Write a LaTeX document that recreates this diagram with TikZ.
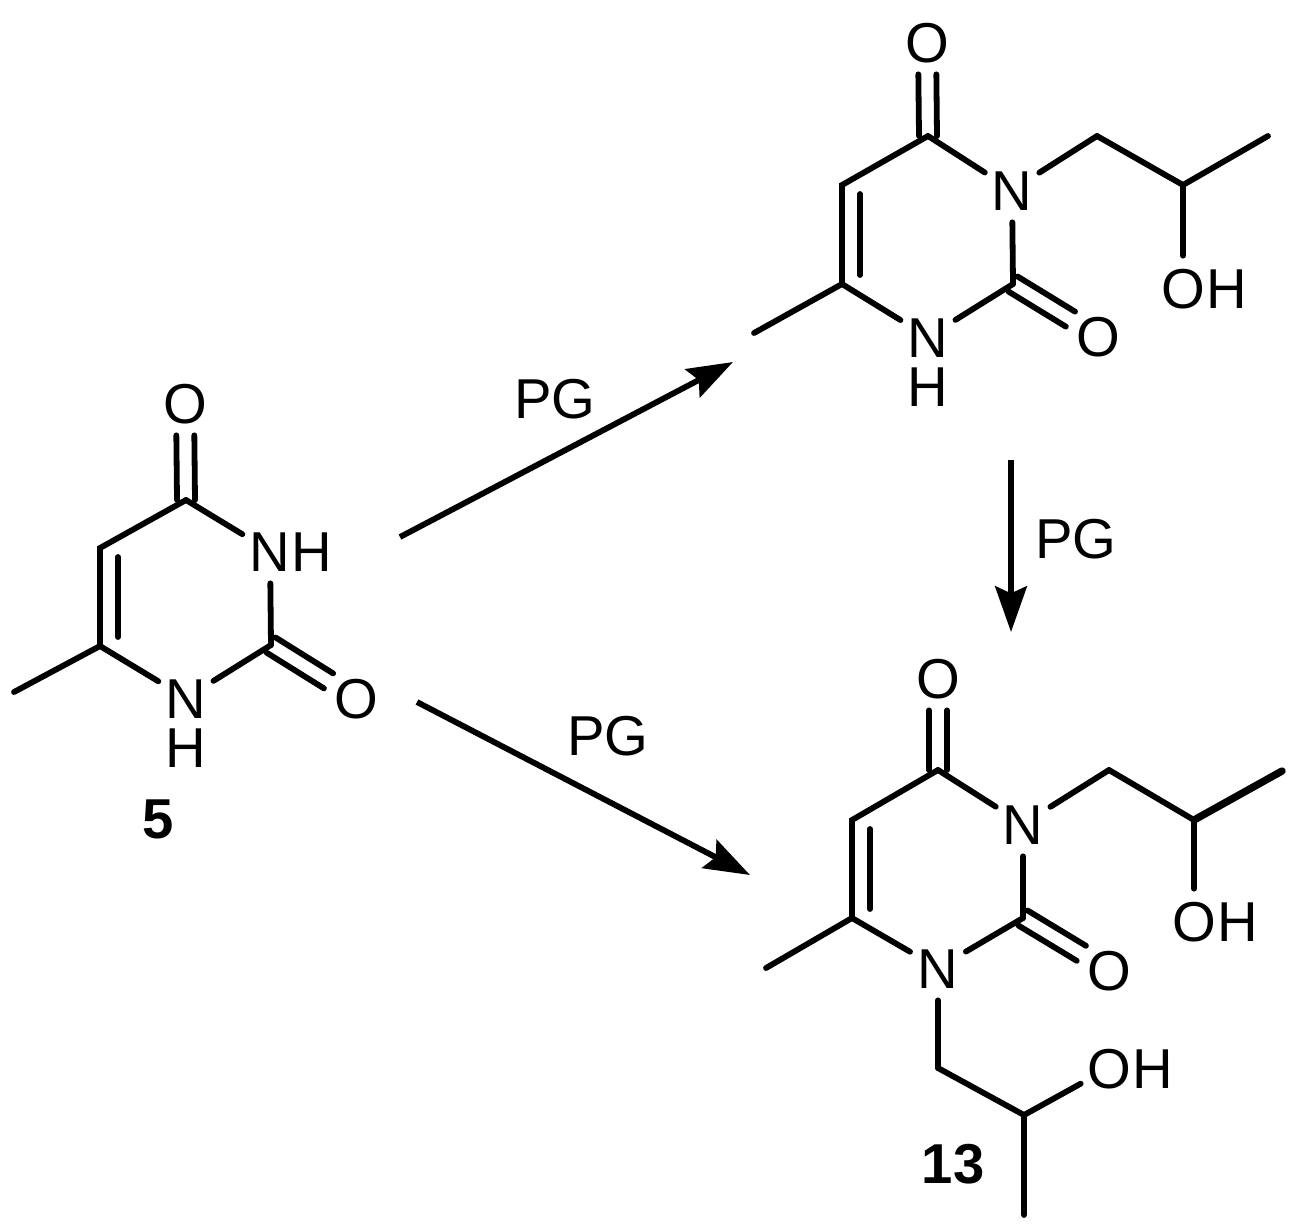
\documentclass[tikz,border=0pt]{standalone}
\usepackage{fontspec}
\setmainfont{Liberation Sans}
\usetikzlibrary{arrows.meta}
\tikzstyle{bond} = [line width=3.3pt,line cap=round]
\tikzstyle{bondthick} = [line width=4.2pt,line cap=round]
\tikzstyle{arrow} = [line width=3.3pt,-{Stealth[length=26pt,width=18pt,inset=4pt]}]
\tikzstyle{atom} = [circle,inner sep=0pt,minimum size=1.28cm,font=\fontsize{32}{32}\selectfont,text height=22.9pt,text depth=0pt]
\tikzstyle{txt} = [inner sep=0pt,font=\fontsize{32}{32}\selectfont,text height=22.9pt,text depth=0pt]
\tikzstyle{cmpd} = [txt,font=\fontsize{32}{32}\bfseries\selectfont]
\tikzstyle{inner} = [transform canvas={xshift=0.36cm},shorten <=0.18cm,shorten >=0.18cm]
\tikzstyle{dblv} = [transform canvas={xshift=#1*0.02cm}]
\tikzstyle{dbla} = [transform canvas={shift={(4.6,-7.5)}}]
\tikzstyle{dblb} = [transform canvas={shift={(-4.6,7.5)}}]
\begin{document}
\begin{tikzpicture}[x=0.02cm,y=-0.02cm]
\useasboundingbox (0,0) rectangle (1293,1228);

\coordinate (mea) at (14,692);
\coordinate (c6a) at (100,646);
\coordinate (c5a) at (100,548);
\coordinate (c4a) at (186,500);
\coordinate (c2a) at (271,645);
\node[atom] (o4a) at (185,403) {O};
\node[atom] (n3a) at (270,551) {N};
\node[txt] (h3a) at (312,551) {H};
\node[atom] (n1a) at (186,698) {N};
\node[txt] (h1a) at (186,747) {H};
\node[atom] (o2a) at (356,698) {O};
\node[cmpd] (five) at (158,818) {5};
\draw[bond] (mea) -- (c6a);
\draw[bond] (c6a) -- (c5a) -- (c4a);
\draw[bond,inner] (c6a) -- (c5a);
\draw[bond,dblv=-9] (c4a) -- (o4a);
\draw[bond,dblv=9] (c4a) -- (o4a);
\draw[bond] (c4a) -- (n3a);
\draw[bond] (n3a) -- (c2a);
\draw[bond] (c2a) -- (n1a);
\draw[bond] (n1a) -- (c6a);
\draw[bond,dbla] (c2a) -- (o2a);
\draw[bond,dblb] (c2a) -- (o2a);

\coordinate (meb) at (754,333);
\coordinate (c6b) at (842,284);
\coordinate (c5b) at (842,185);
\coordinate (c4b) at (928,136);
\coordinate (c2b) at (1013,284);
\coordinate (cab) at (1097,136);
\coordinate (cbb) at (1183,185);
\coordinate (ccb) at (1268,136);
\node[atom] (o4b) at (927,42) {O};
\node[atom] (n3b) at (1012,190) {N};
\node[atom] (n1b) at (928,337) {N};
\node[txt] (h1b) at (928,386) {H};
\node[atom] (o2b) at (1098,336) {O};
\node[atom] (ohb) at (1183,288) {O};
\node[txt] (hob) at (1227,288) {H};
\draw[bond] (meb) -- (c6b);
\draw[bond] (c6b) -- (c5b) -- (c4b);
\draw[bond,inner] (c6b) -- (c5b);
\draw[bond,dblv=-9] (c4b) -- (o4b);
\draw[bond,dblv=9] (c4b) -- (o4b);
\draw[bond] (c4b) -- (n3b);
\draw[bond] (n3b) -- (c2b);
\draw[bond] (c2b) -- (n1b);
\draw[bond] (n1b) -- (c6b);
\draw[bond,dbla] (c2b) -- (o2b);
\draw[bond,dblb] (c2b) -- (o2b);
\draw[bond] (n3b) -- (cab);
\draw[bond] (cab) -- (cbb) -- (ccb);
\draw[bond] (cbb) -- (ohb);

\coordinate (mec) at (766,968);
\coordinate (c6c) at (852,918);
\coordinate (c5c) at (852,820);
\coordinate (c4c) at (938,770);
\coordinate (c2c) at (1023,918);
\coordinate (cac) at (1109,770);
\coordinate (cbc) at (1194,820);
\coordinate (ccc) at (1282,771);
\coordinate (cdc) at (938,1068);
\coordinate (cec) at (1024,1115);
\coordinate (cfc) at (1024,1215);
\node[atom] (o4c) at (938,678) {O};
\node[atom] (n3c) at (1023,824) {N};
\node[atom] (n1c) at (938,968) {N};
\node[atom] (o2c) at (1109,970) {O};
\node[atom] (ohc) at (1194,921) {O};
\node[txt] (hoc) at (1238,921) {H};
\node[atom] (ohd) at (1109,1068) {O};
\node[txt] (hod) at (1153,1068) {H};
\node[cmpd] (thirteen) at (953,1163) {13};
\draw[bond] (mec) -- (c6c);
\draw[bond] (c6c) -- (c5c) -- (c4c);
\draw[bond,inner] (c6c) -- (c5c);
\draw[bond,dblv=-9] (c4c) -- (o4c);
\draw[bond,dblv=9] (c4c) -- (o4c);
\draw[bond] (c4c) -- (n3c);
\draw[bond] (n3c) -- (c2c);
\draw[bond] (c2c) -- (n1c);
\draw[bond] (n1c) -- (c6c);
\draw[bond,dbla] (c2c) -- (o2c);
\draw[bond,dblb] (c2c) -- (o2c);
\draw[bond] (n3c) -- (cac);
\draw[bond] (cac) -- (cbc);
\draw[bondthick] (cbc) -- (ccc);
\draw[bond] (cbc) -- (ohc);
\draw[bond] (n1c) -- (cdc);
\draw[bond] (cdc) -- (cec) -- (cfc);
\draw[bond] (cec) -- (ohd);

\coordinate (a1s) at (400,537);
\coordinate (a1e) at (733,362);
\coordinate (a2s) at (1011,460);
\coordinate (a2e) at (1011,632);
\coordinate (a3s) at (417,702);
\coordinate (a3e) at (750,875);
\draw[arrow] (a1s) -- (a1e);
\draw[arrow] (a2s) -- (a2e);
\draw[arrow] (a3s) -- (a3e);
\node[txt] (pga) at (555,398) {PG};
\node[txt] (pgb) at (1076,538) {PG};
\node[txt] (pgc) at (608,735) {PG};

\end{tikzpicture}
\end{document}
